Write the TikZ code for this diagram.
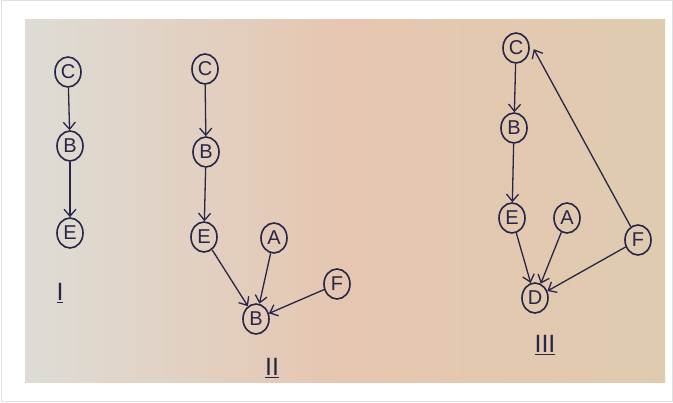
\documentclass[tikz,border=0pt]{standalone}
\usepackage{fontspec}
\setmainfont{Liberation Sans}
\usetikzlibrary{arrows.meta,shapes.geometric}
\definecolor{ink}{HTML}{26254A}
\definecolor{paperL}{HTML}{DEDCD5}
\definecolor{paperM}{HTML}{E6C6B0}
\definecolor{paperR}{HTML}{DFCBB0}
\tikzset{
  vtx/.style={draw=ink, line width=1.6pt, ellipse, minimum width=26pt,
    minimum height=30pt, inner sep=0pt, text=ink,
    font=\fontsize{20}{20}\selectfont},
  edge/.style={draw=ink, line width=1.3pt,
    -{Straight Barb[length=7pt,width=12pt,line width=1.3pt]}},
  tag/.style={text=ink, font=\fontsize{25}{25}\selectfont}
}
\begin{document}
\begin{tikzpicture}[x=1pt,y=-1pt]
  \useasboundingbox (0,0) rectangle (673,403);
  \fill[white] (0,0) rectangle (673,403);
  \draw[black!12, line width=1pt] (1,1) rectangle (672,402);
  % paper
  \shade[left color=paperL, right color=paperR, middle color=paperM]
    (25,20) rectangle (665,383);

  % ---- graph I ----
  \node[vtx] (c1) at (68,72) {C};
  \node[vtx] (b1) at (70,146) {B};
  \node[vtx] (e1) at (70,233) {E};
  \draw[edge] (c1) -- (b1);
  \draw[edge] (b1) -- (e1);
  \node[tag] (l1) at (60,293) {\underline{I}};

  % ---- graph II ----
  \node[vtx] (c2) at (205,69) {C};
  \node[vtx] (b2) at (206,152) {B};
  \node[vtx] (e2) at (204,237) {E};
  \node[vtx] (a2) at (274,238) {A};
  \node[vtx] (f2) at (337,284) {F};
  \node[vtx] (d2) at (256,319) {B};
  \draw[edge] (c2) -- (b2);
  \draw[edge] (b2) -- (e2);
  \draw[edge] (e2) -- (d2);
  \draw[edge] (a2) -- (d2);
  \draw[edge] (f2) -- (d2);
  \node[tag] (l2) at (272,368) {\underline{II}};

  % ---- graph III ----
  \node[vtx] (c3) at (516,48) {C};
  \node[vtx] (b3) at (514,128) {B};
  \node[vtx] (e3) at (512,218) {E};
  \node[vtx] (a3) at (567,218) {A};
  \node[vtx] (f3) at (638,240) {F};
  \node[vtx] (d3) at (535,298) {D};
  \draw[edge] (c3) -- (b3);
  \draw[edge] (b3) -- (e3);
  \draw[edge] (e3) -- (d3);
  \draw[edge] (a3) -- (d3);
  \draw[edge] (f3) -- (d3);
  \draw[edge] (f3) -- ([xshift=8pt,yshift=10pt]c3.south east);
  \node[tag] (l3) at (545,345) {\underline{III}};
\end{tikzpicture}
\end{document}
